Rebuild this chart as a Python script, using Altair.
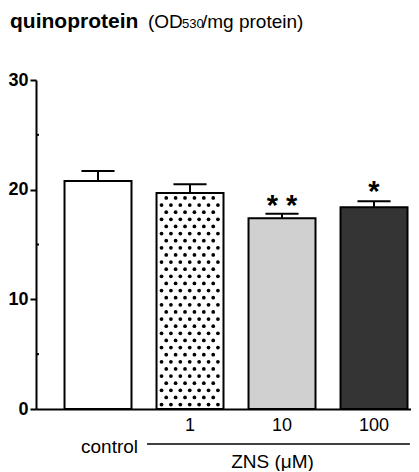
import altair as alt
import pandas as pd
import numpy as np

# ---- data ----
groups = ["control", "1", "10", "100"]
values = [20.8, 19.7, 17.4, 18.4]
errors = [0.9, 0.8, 0.4, 0.55]
tick_labels = ["", "1", "10", "100"]
sig_marks = ["", "", "* *", "*"]
sig_y = [None, None, 17.7, 19.0]
minor_ticks = [5, 15, 25]

# ---- styling ----
fills = ["#ffffff", "#ffffff", "#d0d0d0", "#343434"]
FONT = "Liberation Sans"
HALF = 0.364
CAP = 0.18

pos = list(range(len(groups)))
df = pd.DataFrame({
    "group": groups,
    "pos": pos,
    "lo": [p - HALF for p in pos],
    "hi": [p + HALF for p in pos],
    "value": values,
    "top": [v + e for v, e in zip(values, errors)],
    "cap_lo": [p - CAP for p in pos],
    "cap_hi": [p + CAP for p in pos],
    "tick": tick_labels,
    "sig": sig_marks,
    "sig_y": sig_y,
})

# coarse dot texture for the "1" bar (a fill pattern, not data)
px_per_x = 92.0
rows = []
k = 0
yy = 0.4
while yy < values[1] - 0.35:
    off = 5 + (4.7 if k % 2 else 0)
    j = 0
    while off + 9.4 * j < 63:
        rows.append({"dx": pos[1] - HALF + (off + 9.4 * j) / px_per_x, "dy": yy})
        j += 1
    yy += 0.65
    k += 1
dots = pd.DataFrame(rows)

xscale = alt.Scale(domain=[-0.674, 3.402], nice=False, zero=False)
yscale = alt.Scale(domain=[0, 30], nice=False)

base = alt.Chart(df)

bars = base.mark_bar(stroke="black", strokeWidth=2).encode(
    x=alt.X("lo:Q", scale=xscale,
            axis=alt.Axis(labels=False, ticks=False, title=None, grid=False,
                          domainWidth=2, domainColor="black")),
    x2="hi:Q",
    y=alt.Y("value:Q", scale=yscale,
            axis=alt.Axis(values=[0, 10, 20, 30], title=None, grid=False,
                          tickSize=6, tickWidth=2, tickColor="black",
                          domainWidth=2, domainColor="black",
                          labelFont=FONT, labelFontSize=18, labelFontWeight="bold",
                          labelColor="black", labelPadding=2)),
    y2=alt.datum(0),
    fill=alt.Fill("group:N", scale=alt.Scale(domain=groups, range=fills), legend=None),
)

texture = alt.Chart(dots).mark_circle(color="black", size=14, opacity=1).encode(
    x="dx:Q", y="dy:Q"
)

stems = base.mark_rule(strokeWidth=2, color="black").encode(
    x="pos:Q", y="value:Q", y2="top:Q"
)
caps = base.mark_rule(strokeWidth=2, color="black").encode(
    x="cap_lo:Q", x2="cap_hi:Q", y="top:Q"
)

minor = alt.Chart(pd.DataFrame({"m": minor_ticks})).mark_rule(
    strokeWidth=2, color="black").encode(
    x=alt.value(0), x2=alt.value(3), y="m:Q"
)

stars = base.transform_filter("datum.sig != ''").mark_text(
    font=FONT, fontSize=29, fontWeight="bold", baseline="alphabetic",
    align="center", color="black").encode(
    x="pos:Q", y="sig_y:Q", text="sig:N"
)

xlabels = base.transform_filter("datum.tick != ''").mark_text(
    font=FONT, fontSize=18, baseline="middle", align="center", color="black"
).encode(x="pos:Q", y=alt.datum(-1.55), text="tick:N")

ann = pd.DataFrame({"a": [0]})
control_txt = alt.Chart(ann).mark_text(
    text="control", font=FONT, fontSize=19, align="right", baseline="middle",
    color="black").encode(x=alt.datum(0.435), y=alt.datum(-3.46))
zns_line = alt.Chart(ann).mark_rule(strokeWidth=1.5, color="black").encode(
    x=alt.datum(0.533), x2=alt.datum(3.39), y=alt.datum(-3.19))
zns_txt = alt.Chart(ann).mark_text(
    text="ZNS (μM)", font=FONT, fontSize=19, align="center", baseline="middle",
    color="black").encode(x=alt.datum(1.897), y=alt.datum(-4.8))

t1 = alt.Chart(ann).mark_text(
    text="quinoprotein", font=FONT, fontSize=21, fontWeight="bold",
    align="left", baseline="alphabetic", color="black").encode(
    x=alt.value(-26), y=alt.value(-52))
t2 = alt.Chart(ann).mark_text(
    text="(OD", font=FONT, fontSize=19, align="left", baseline="alphabetic",
    color="black").encode(x=alt.value(112), y=alt.value(-52))
t3 = alt.Chart(ann).mark_text(
    text="530", font=FONT, fontSize=13, align="left", baseline="alphabetic",
    color="black").encode(x=alt.value(146), y=alt.value(-52))
t4 = alt.Chart(ann).mark_text(
    text="/mg protein)", font=FONT, fontSize=19, align="left", baseline="alphabetic",
    color="black").encode(x=alt.value(166), y=alt.value(-52))

chart = alt.layer(
    bars, texture, stems, caps, minor, stars, xlabels,
    control_txt, zns_line, zns_txt, t1, t2, t3, t4
).properties(
    width=375, height=329,
    background="white",
    autosize=alt.AutoSizeParams(type="none"),
    padding={"left": 28, "top": 72, "right": 0, "bottom": 62},
).configure_view(strokeWidth=0, stroke="transparent").configure_axis(grid=False)

chart.save("out.html", embed_options={"renderer": "svg", "actions": False})
